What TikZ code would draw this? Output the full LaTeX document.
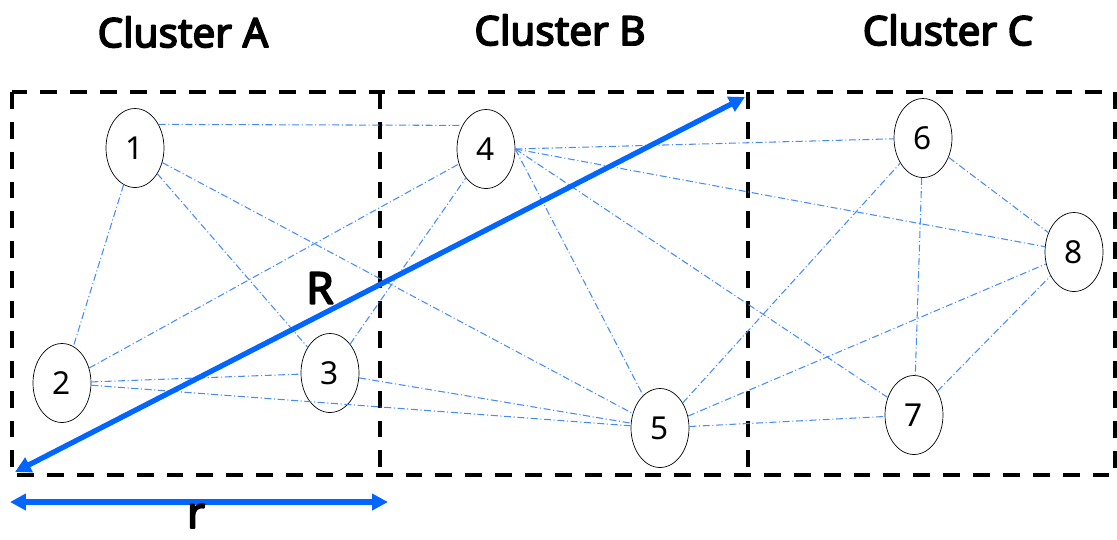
\documentclass[tikz,border=0pt]{standalone}
\usepackage{fontspec}
\setmainfont{Noto Sans}[BoldFont={Noto Sans}, BoldFeatures={FakeBold=4}]
\usetikzlibrary{arrows.meta, shapes.geometric}
\definecolor{linkblue}{RGB}{70,140,255}
\definecolor{arrowblue}{RGB}{0,102,255}

\begin{document}
\begin{tikzpicture}[x=0.02cm, y=-0.02cm, line join=bevel,
  station/.style={draw, ellipse, thin, minimum width=1.16cm, minimum height=1.58cm,
    inner sep=0pt, font=\fontsize{18}{21}\selectfont},
  link/.style={linkblue, line width=0.6pt, dash pattern=on 4pt off 1.5pt on 0.6pt off 1.5pt},
  clusterbox/.style={black, line width=2.7pt, dash pattern=on 9.6pt off 7.4pt},
  title/.style={font=\bfseries\fontsize{23}{26}\selectfont},
  measure/.style={arrowblue, line width=3pt, {Triangle[length=9pt, width=9pt]}-{Triangle[length=9pt, width=9pt]}}]

\useasboundingbox (0,0) rectangle (1117,539);

% clusters
\draw[clusterbox] (12,92) rectangle (1115,475);
\draw[clusterbox] (380,92) -- (380,475);
\draw[clusterbox] (748,92) -- (748,475);

\node[title] (titleA) at (183,32) {Cluster A};
\node[title] (titleB) at (560,30) {Cluster B};
\node[title] (titleC) at (948,30) {Cluster C};

% stations
\node[station] (n1) at (135,148) {1};
\node[station] (n2) at (62,383) {2};
\node[station] (n3) at (330,373) {3};
\node[station] (n4) at (486,149) {4};
\node[station] (n5) at (660,428) {5};
\node[station] (n6) at (923,138) {6};
\node[station] (n7) at (914,415) {7};
\node[station] (n8) at (1074,252) {8};

% links
\draw[link] (n1.45) -- (n4.135);
\draw[link] (n1) -- (n2);
\draw[link] (n1) -- (n3);
\draw[link] (n1) -- (n5);
\draw[link] (n2) -- (n4);
\draw[link] (n2) -- (n3);
\draw[link] (n2) -- (n5);
\draw[link] (n3) -- (n4);
\draw[link] (n3) -- (n5);
\draw[link] (n4.east) -- (n6);
\draw[link] (n4.east) -- (n8);
\draw[link] (n4.east) -- (n5);
\draw[link] (n4.east) -- (n7);
\draw[link] (n5) -- (n6);
\draw[link] (n5) -- (n8);
\draw[link] (n5) -- (n7);
\draw[link] (n6) -- (n7);
\draw[link] (n6) -- (n8);
\draw[link] (n7) -- (n8);

% range arrows
\coordinate (Rtop) at (745,97);
\coordinate (Rbot) at (15,472);
\draw[measure] (Rbot) -- (Rtop);
\node[title, font=\bfseries\fontsize{25}{28}\selectfont] (Rlabel) at (320,288) {R};

\coordinate (rleft) at (10,502);
\coordinate (rright) at (388,502);
\draw[measure] (rleft) -- (rright);
\node[title, font=\bfseries\fontsize{25}{28}\selectfont] (rlabel) at (196,516) {r};

\end{tikzpicture}
\end{document}
